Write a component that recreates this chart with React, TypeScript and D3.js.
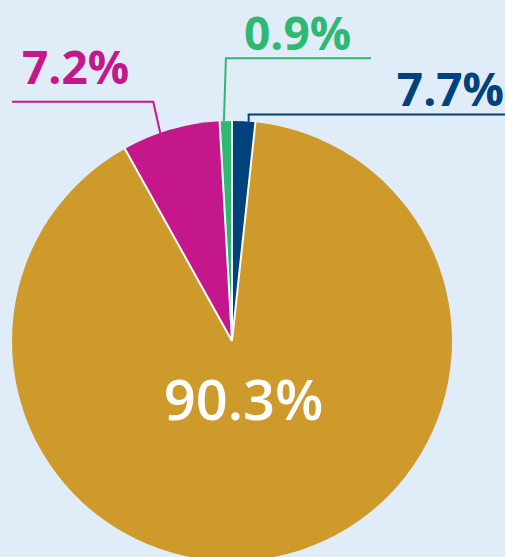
import React, { useEffect } from "react";
import * as d3 from "d3";

// Data
const categories = ["Blue", "Gold", "Magenta", "Green"];
const sliceValues = [1.7, 90.3, 7.2, 0.9];
const labels = ["7.7%", "90.3%", "7.2%", "0.9%"];
const colors = ["#00427c", "#cf9a2c", "#c4178c", "#2eb872"];

const W = 505;
const H = 557;
const cx = 232;
const cy = 341;
const R = 220;

// Label layout (annotation positions)
const leaderLayout: Record<number, { frac: number; elbowY: number; elbowDx: number; endX: number; tx: number; ty: number; anchor: string }> = {
  0: { frac: 0.71, elbowY: 114.5, elbowDx: 0, endX: 505, tx: 504, ty: 106, anchor: "end" },
  2: { frac: 0.39, elbowY: 101.7, elbowDx: -7, endX: 12, tx: 22, ty: 84, anchor: "start" },
  3: { frac: 0.35, elbowY: 58.3, elbowDx: 2, endX: 371, tx: 244, ty: 50, anchor: "start" },
};

export default function App() {
  useEffect(() => {
    document.body.style.margin = "0";
  }, []);

  const pie = d3
    .pie<number>()
    .sort(null)
    .value((d) => d)
    .startAngle(0)
    .endAngle(2 * Math.PI);
  const arcs = pie(sliceValues);
  const arc = d3.arc<d3.PieArcDatum<number>>().innerRadius(0).outerRadius(R);

  const font = "'Open Sans', 'Noto Sans', sans-serif";

  return (
    <svg width={W} height={H} style={{ position: "fixed", left: 0, top: 0, background: "#e0ecf8" }}>
      <rect x={0} y={0} width={W} height={H} fill="#e0ecf8" />
      <g transform={`translate(${cx},${cy})`}>
        {arcs.map((a, i) => (
          <path key={categories[i]} d={arc(a) || ""} fill={colors[i]} />
        ))}
        {arcs.map((a, i) => (
          <line
            key={"sep" + i}
            x1={0}
            y1={0}
            x2={(R + 1) * Math.sin(a.startAngle)}
            y2={-(R + 1) * Math.cos(a.startAngle)}
            stroke="#ffffff"
            strokeWidth={2}
          />
        ))}
      </g>
      {arcs.map((a, i) => {
        const lay = leaderLayout[i];
        if (!lay) return null;
        const ang = a.startAngle + (a.endAngle - a.startAngle) * lay.frac;
        const sx = cx + R * Math.sin(ang);
        const sy = cy - R * Math.cos(ang);
        const ex = sx + lay.elbowDx;
        const pts: [number, number][] = [
          [sx, sy],
          [ex, lay.elbowY],
          [lay.endX, lay.elbowY],
        ];
        const line = d3.line();
        return (
          <g key={"lbl" + i}>
            <path d={line(pts) || ""} fill="none" stroke={colors[i]} strokeWidth={2} />
            <text x={lay.tx} y={lay.ty} textAnchor={lay.anchor} fill={colors[i]} fontFamily={font} fontWeight={700} fontSize={46}>
              {labels[i]}
            </text>
          </g>
        );
      })}
      {(() => {
        const a = arcs[1];
        const mid = (a.startAngle + a.endAngle) / 2;
        const lr = 58;
        const x = cx + lr * Math.sin(mid);
        const y = cy - lr * Math.cos(mid);
        return (
          <text x={x} y={y} textAnchor="middle" dominantBaseline="central" fill="#ffffff" fontFamily={font} fontWeight={600} fontSize={56}>
            {labels[1]}
          </text>
        );
      })()}
    </svg>
  );
}
